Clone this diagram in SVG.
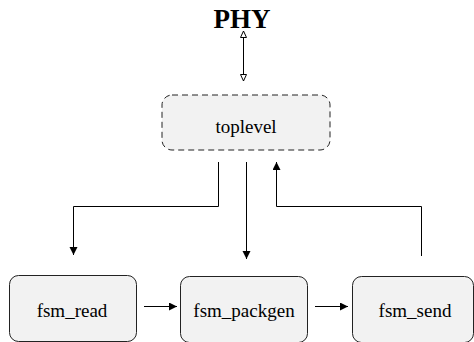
<svg xmlns="http://www.w3.org/2000/svg" width="474" height="342" viewBox="0 0 474 342">
<defs>
<style>
.box{fill:#f2f2f2;stroke:#222;stroke-width:1}
.dash{stroke-dasharray:6,4}
.lbl{font-family:"Liberation Serif","Times New Roman","DejaVu Serif",serif;font-size:19px;fill:#000;text-anchor:middle;dominant-baseline:central}
.title{font-family:"Liberation Serif","Times New Roman","DejaVu Serif",serif;font-size:27px;font-weight:bold;fill:#000;text-anchor:middle}
.edge{fill:none;stroke:#000;stroke-width:1}
</style>
<marker id="ah" markerWidth="10" markerHeight="10" refX="8" refY="4" orient="auto" markerUnits="userSpaceOnUse"><path d="M0,0 L8,4 L0,8 Z" fill="#000"/></marker>
<marker id="oh" markerWidth="10" markerHeight="10" refX="7" refY="3.5" orient="auto" markerUnits="userSpaceOnUse"><path d="M0.5,0.5 L7,3.5 L0.5,6.5 Z" fill="#fff" stroke="#000" stroke-width="1"/></marker>
<marker id="os" markerWidth="10" markerHeight="10" refX="0" refY="3.5" orient="auto" markerUnits="userSpaceOnUse"><path d="M6.5,0.5 L0,3.5 L6.5,6.5 Z" fill="#fff" stroke="#000" stroke-width="1"/></marker>
</defs>
<g id="phy"><text class="title" x="242" y="28">PHY</text></g>
<g id="toplevel"><rect class="box dash" x="162" y="95" width="168" height="55" rx="10"/><text class="lbl" x="246" y="126">toplevel</text></g>
<g id="fsm_read"><rect class="box" x="9.5" y="275.5" width="127" height="66" rx="9"/><text class="lbl" x="72" y="310">fsm_read</text></g>
<g id="fsm_packgen"><rect class="box" x="180.5" y="276.5" width="127" height="66" rx="9"/><text class="lbl" x="244" y="310">fsm_packgen</text></g>
<g id="fsm_send"><rect class="box" x="352.5" y="276.5" width="121" height="66" rx="9"/><text class="lbl" x="415" y="310">fsm_send</text></g>
<g id="connectors">
<path class="edge" d="M243.5,31 L243.5,81" marker-start="url(#os)" marker-end="url(#oh)"/>
<path class="edge" d="M218.5,162 L218.5,206.5 L73.5,206.5 L73.5,255" marker-end="url(#ah)"/>
<path class="edge" d="M246.5,162 L246.5,259" marker-end="url(#ah)"/>
<path class="edge" d="M421.5,256 L421.5,206.5 L276.5,206.5 L276.5,162" marker-end="url(#ah)"/>
<path class="edge" d="M144,306.5 L177,306.5" marker-end="url(#ah)"/>
<path class="edge" d="M315,306.5 L348,306.5" marker-end="url(#ah)"/>
</g>
</svg>
